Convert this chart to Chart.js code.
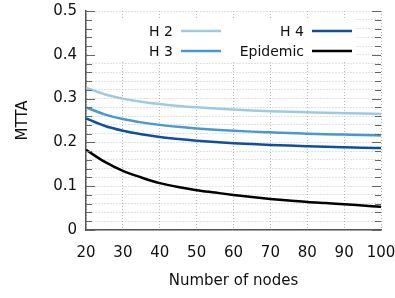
<!DOCTYPE html>
<html>
<head>
<meta charset="utf-8">
<script src="https://cdn.jsdelivr.net/npm/chart.js@4"></script>
<style>
  html, body { margin: 0; padding: 0; background: #fff; }
  #wrap { width: 395px; height: 298px; }
</style>
</head>
<body>
<div id="wrap"><canvas id="mtta"></canvas></div>
<script>
const nodes = [20, 25, 30, 35, 40, 45, 50, 55, 60, 65, 70, 75, 80, 85, 90, 95, 100];
const h2 = [0.325, 0.310, 0.300, 0.2929, 0.2875, 0.2833, 0.280, 0.2773, 0.275, 0.2731, 0.2714, 0.270, 0.2688, 0.2676, 0.2667, 0.2658, 0.265];
const h3 = [0.280, 0.264, 0.2533, 0.2457, 0.240, 0.2356, 0.232, 0.2291, 0.2267, 0.2246, 0.2229, 0.2213, 0.220, 0.2188, 0.2178, 0.2168, 0.216];
const h4 = [0.255, 0.238, 0.2267, 0.2186, 0.2125, 0.2078, 0.204, 0.2009, 0.1983, 0.1962, 0.1943, 0.1927, 0.1913, 0.190, 0.1889, 0.1879, 0.187];
const epidemic = [0.183, 0.156, 0.135, 0.120, 0.107, 0.098, 0.091, 0.0855, 0.080, 0.0753, 0.071, 0.0675, 0.064, 0.0615, 0.059, 0.056, 0.053];

const seriesNames = ['H 2', 'H 3', 'H 4', 'Epidemic'];
const seriesColors = ['#9ecae1', '#4a98cf', '#0f4f9e', '#000000'];

const FONT = "'DejaVu Sans', sans-serif";

function line(label, values, color) {
  return {
    label: label,
    data: nodes.map((n, i) => ({ x: n, y: values[i] })),
    borderColor: color,
    backgroundColor: color,
    borderWidth: 2.5,
    pointRadius: 0,
    cubicInterpolationMode: 'monotone',
    fill: false
  };
}

// gnuplot-like key: text then line sample, white box behind
const keyPlugin = {
  id: 'key',
  afterDatasetsDraw(chart) {
    const ctx = chart.ctx;
    const a = chart.chartArea;
    ctx.save();
    ctx.fillStyle = '#fff';
    ctx.fillRect(a.left + 2, a.top + 8, 268, 42);
    ctx.font = '14px ' + FONT;
    ctx.textAlign = 'right';
    ctx.textBaseline = 'middle';
    const cols = [173, 304];
    const rows = [32, 52];
    chart.data.datasets.forEach((ds, i) => {
      const c = i < 2 ? 0 : 1;
      const r = i % 2;
      const tx = cols[c], ty = rows[r];
      ctx.fillStyle = '#111';
      ctx.fillText(ds.label, tx, ty);
      ctx.strokeStyle = ds.borderColor;
      ctx.lineWidth = 2.5;
      ctx.beginPath();
      ctx.moveTo(tx + 8, ty - 1);
      ctx.lineTo(tx + 48, ty - 1);
      ctx.stroke();
    });
    ctx.restore();
  },
  afterDraw(chart) {
    // inward tick marks on left and right
    const ctx = chart.ctx;
    const a = chart.chartArea;
    const y = chart.scales.y;
    ctx.save();
    ctx.strokeStyle = '#666';
    ctx.lineWidth = 1.2;
    for (let k = 0; k <= 25; k++) {
      const v = k * 0.02;
      const py = Math.round(y.getPixelForValue(v)) + 0.5;
      const len = k % 5 === 0 ? 9 : 6;
      ctx.beginPath();
      ctx.moveTo(a.left, py);
      ctx.lineTo(a.left + len, py);
      ctx.moveTo(a.right, py);
      ctx.lineTo(a.right - len, py);
      ctx.stroke();
    }
    ctx.restore();
  }
};

new Chart(document.getElementById('mtta'), {
  type: 'line',
  data: {
    datasets: [
      line(seriesNames[0], h2, seriesColors[0]),
      line(seriesNames[1], h3, seriesColors[1]),
      line(seriesNames[2], h4, seriesColors[2]),
      line(seriesNames[3], epidemic, seriesColors[3])
    ]
  },
  options: {
    responsive: true,
    maintainAspectRatio: false,
    animation: false,
    layout: { padding: { top: 11, right: 14, left: 0, bottom: 0 } },
    plugins: {
      legend: { display: false },
      tooltip: { enabled: false }
    },
    scales: {
      x: {
        type: 'linear',
        min: 20,
        max: 100,
        afterFit(s) { s.height = 68; s.paddingLeft = 0; s.paddingRight = 0; },
        ticks: {
          stepSize: 10,
          padding: 14,
          color: '#111',
          font: { family: FONT, size: 15 }
        },
        grid: {
          color: '#b8b8b8',
          drawTicks: false,
          tickLength: 0
        },
        border: { display: true, color: '#555', width: 1.5, dash: [1, 2] },
        title: {
          display: true,
          text: 'Number of nodes',
          color: '#111',
          font: { family: FONT, size: 15 },
          padding: { top: 4, bottom: 8 }
        }
      },
      y: {
        min: 0,
        max: 0.5,
        afterFit(s) { s.width = 86; s.paddingTop = 0; s.paddingBottom = 0; },
        ticks: {
          stepSize: 0.02,
          padding: 9,
          color: '#111',
          font: { family: FONT, size: 15 },
          autoSkip: false,
          callback(v) {
            const k = Math.round(v * 50);
            if (k % 5 !== 0) return '';
            return k === 0 ? '0' : (k / 50).toFixed(1);
          }
        },
        grid: {
          color: '#c4c4c4',
          drawTicks: false,
          tickLength: 0
        },
        border: { display: true, color: '#555', width: 1.5, dash: [1, 2] },
        title: {
          display: true,
          text: 'MTTA',
          color: '#111',
          font: { family: FONT, size: 15 },
          padding: { top: 14, bottom: 0 }
        }
      }
    }
  },
  plugins: [keyPlugin]
});
</script>
</body>
</html>
